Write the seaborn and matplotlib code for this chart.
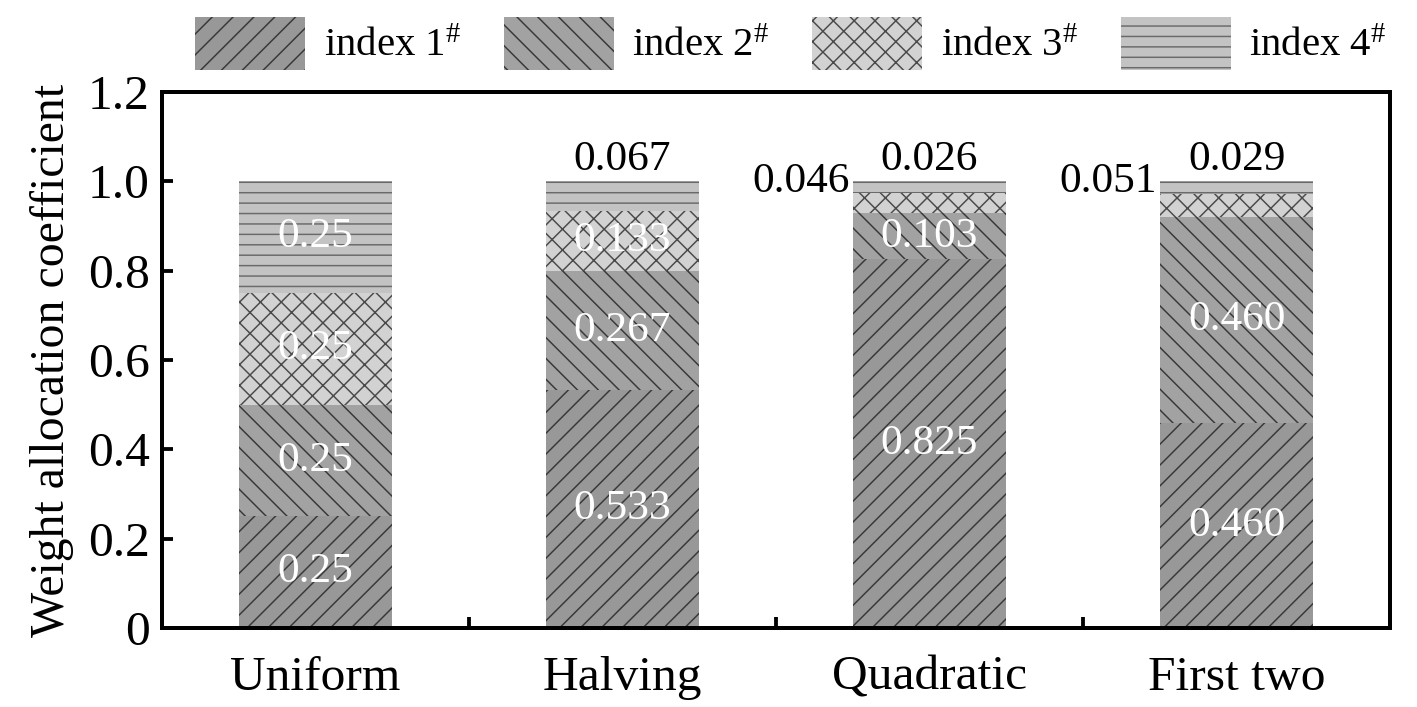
import matplotlib
matplotlib.use("Agg")
import matplotlib.pyplot as plt
import seaborn as sns
import numpy as np

methods = ["Uniform", "Halving", "Quadratic", "First two"]
index_1 = [0.25, 0.533, 0.825, 0.460]
index_2 = [0.25, 0.267, 0.103, 0.460]
index_3 = [0.25, 0.133, 0.046, 0.051]
index_4 = [0.25, 0.067, 0.026, 0.029]
series_names = ["index 1$^{\\#}$", "index 2$^{\\#}$", "index 3$^{\\#}$", "index 4$^{\\#}$"]
y_ticks = [0, 0.2, 0.4, 0.6, 0.8, 1.0, 1.2]
y_tick_labels = ["0", "0.2", "0.4", "0.6", "0.8", "1.0", "1.2"]

sns.set_style("ticks")
plt.rcParams["font.family"] = ["Liberation Serif", "DejaVu Serif"]
plt.rcParams["mathtext.fontset"] = "custom"
plt.rcParams["mathtext.rm"] = "Liberation Serif"
plt.rcParams["mathtext.it"] = "Liberation Serif"
plt.rcParams["hatch.linewidth"] = 0.85
for k in ["axes.edgecolor", "text.color", "xtick.color", "ytick.color", "axes.labelcolor"]:
    plt.rcParams[k] = "black"

fills = ["#989898", "#a2a2a2", "#d2d2d2", "#c3c3c3"]
hatch_cols = ["#383838", "#383838", "#4a4a4a", "#6a6a6a"]
hatches = ["//", "\\\\", "xx", "--"]

# dpi 125 so hatch spacing is close to the original
DPI = 125
fig = plt.figure(figsize=(1417 / DPI, 707 / DPI), dpi=DPI)
ax = fig.add_axes([0.1143, 0.1117, 0.8667, 0.7582])

series = [index_1, index_2, index_3, index_4]
bottom = np.zeros(len(methods))
for vals, fc, hc, h in zip(series, fills, hatch_cols, hatches):
    sns.barplot(x=methods, y=vals, bottom=bottom, color=fc, edgecolor=hc,
                linewidth=0, width=0.5, errorbar=None, saturation=1, ax=ax)
    for p in ax.containers[-1]:
        p.set_hatch(h)
        p.set_facecolor(fc)
        p.set_edgecolor(hc)
    bottom = bottom + np.array(vals)

# value labels
bottom = np.zeros(len(methods))
for k, vals in enumerate(series):
    for i, v in enumerate(vals):
        mid = bottom[i] + v / 2
        txt = f"{v:.2f}" if methods[i] == "Uniform" else f"{v:.3f}"
        if v > 0.09:
            ax.text(i, mid, txt, color="white", ha="center", va="center", fontsize=25)
        elif k == 2:
            ax.text(i - 0.26, 1.0, txt, color="black", ha="right", va="center", fontsize=25)
        else:
            ax.text(i, 1.005, txt, color="black", ha="center", va="bottom", fontsize=25)
    bottom = bottom + np.array(vals)

ax.set_ylim(0, 1.2)
ax.set_xlim(-0.5, 3.5)
ax.set_yticks(y_ticks)
ax.set_yticklabels(y_tick_labels)
ax.set_xticks(range(len(methods)))
ax.set_xticklabels(methods)
ax.set_xticks([0.5, 1.5, 2.5], minor=True)
ax.tick_params(axis="y", direction="in", length=6.4, width=2.2, labelsize=28.5, pad=7)
ax.tick_params(axis="x", which="major", length=0, labelsize=28.5, pad=16)
ax.tick_params(axis="x", which="minor", direction="in", length=6.4, width=2.2)
ax.set_ylabel("Weight allocation coefficient", fontsize=27.5, labelpad=8)
for s in ax.spines.values():
    s.set_visible(True)
    s.set_linewidth(2.3)

handles = [c.patches[0] for c in ax.containers]
ax.legend(handles, series_names, loc="lower center", bbox_to_anchor=(0.512, 1.0),
          ncol=4, frameon=False, fontsize=23.5, handlelength=2.7, handleheight=1.6,
          columnspacing=1.05, handletextpad=0.45, borderaxespad=0.15)

fig.savefig("out.png", dpi=DPI)
